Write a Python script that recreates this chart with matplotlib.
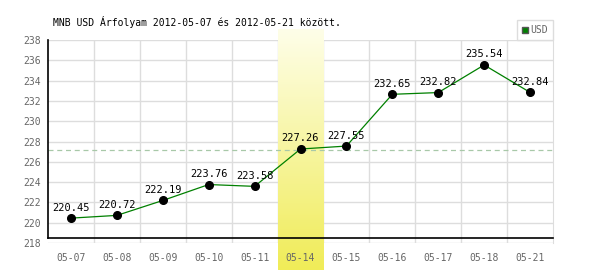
import numpy as np
import matplotlib
matplotlib.use('Agg')
import matplotlib.pyplot as plt
from matplotlib.patches import Patch

# adatok
dates = ['05-07', '05-08', '05-09', '05-10', '05-11', '05-14',
         '05-15', '05-16', '05-17', '05-18', '05-21']
usd = [220.45, 220.72, 222.19, 223.76, 223.58, 227.26,
       227.55, 232.65, 232.82, 235.54, 232.84]
atlag = 227.21
kiemelt = '05-14'
yticks = list(range(218, 239, 2))

plt.rcParams['font.family'] = ['DejaVu Sans Mono']

fig = plt.figure(figsize=(6, 2.7), dpi=100)
ax = fig.add_axes([48 / 600, 1 - 243 / 270, 505 / 600, 203 / 270])

x = np.arange(len(dates))

# rács kézzel, hogy a sáv fölötte legyen
for yv in yticks:
    ax.axhline(yv, color='#dddddd', linewidth=1, zorder=0.1)
for xv in x[:-1] + 0.5:
    ax.axvline(xv, color='#dddddd', linewidth=1, zorder=0.1)

# kiemelt nap sávja (színátmenet)
k = dates.index(kiemelt)
grad = np.linspace(0, 1, 100).reshape(-1, 1)
cmap = matplotlib.colors.LinearSegmentedColormap.from_list('sav', ['#fefee8', '#f0ec58'])
ax.imshow(grad, extent=(k - 0.5, k + 0.5, 215.3, 239), origin='upper', cmap=cmap,
          aspect='auto', clip_on=False, zorder=0.2)

ax.axhline(atlag, color='#a8c8a8', linestyle=(0, (4, 3)), linewidth=0.9, zorder=2)
ax.axhline(218.5, color='black', linewidth=1.2, zorder=3, clip_on=False)

ax.plot(x, usd, color='#008000', linewidth=0.9, zorder=4)
ax.plot(x, usd, 'o', color='black', markersize=5.5, zorder=5)
for xi, v in zip(x, usd):
    ax.annotate(f'{v:.2f}', (xi, v), xytext=(0, 4), textcoords='offset points',
                ha='center', va='bottom', fontsize=7.5, color='black', zorder=6)

ax.set_xlim(-0.5, len(dates) - 0.5)
ax.set_ylim(218, 238)
ax.set_xticks(x)
ax.set_xticklabels(dates)
ax.set_yticks(yticks)
ax.tick_params(axis='both', which='both', length=0, labelsize=7, labelcolor='#666666')
ax.tick_params(axis='x', pad=7)
ax.tick_params(axis='y', pad=5)

ax.spines['top'].set_visible(False)
ax.spines['bottom'].set_visible(False)
ax.spines['right'].set_color('#dddddd')
ax.spines['left'].set_color('black')
ax.spines['left'].set_linewidth(1.2)
ax.spines['left'].set_bounds(218.5, 238)

fig.text(53 / 600, 1 - 22 / 270, 'MNB USD Árfolyam 2012-05-07 és 2012-05-21 között.',
         fontsize=7, color='black', va='center', ha='left')

leg = ax.legend(handles=[Patch(facecolor='#008000', edgecolor='#555555', label='USD')],
                loc='lower right', bbox_to_anchor=(1, 1), borderaxespad=0,
                fancybox=False, edgecolor='#dddddd', fontsize=7, handlelength=0.6,
                handleheight=0.6, handletextpad=0.3, borderpad=0.5, framealpha=1)
for t in leg.get_texts():
    t.set_color('#666666')

fig.savefig('out.png', dpi=100)
